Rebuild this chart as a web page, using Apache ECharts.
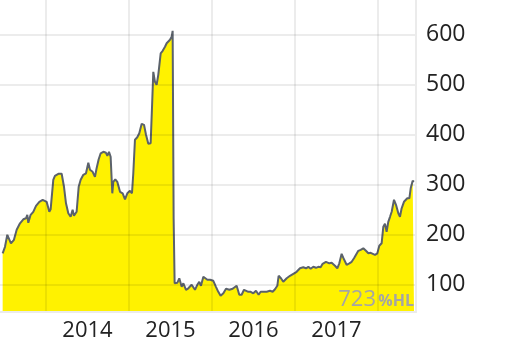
<!DOCTYPE html>
<html>
<head>
<meta charset="utf-8">
<script src="https://cdn.jsdelivr.net/npm/echarts@6/dist/echarts.min.js"></script>
<style>html,body{margin:0;padding:0;background:#fff;}#c{width:512px;height:346px;}</style>
</head>
<body>
<div id="c"></div>
<script>
// Dates as decimal years
var dates = [
2013.478,2013.506,2013.534,2013.558,2013.578,2013.614,2013.647,2013.687,2013.727,2013.759,
2013.775,2013.787,2013.815,2013.847,2013.880,2013.920,2013.936,2013.960,2013.980,2014.008,
2014.040,2014.056,2014.088,2014.108,2014.149,2014.189,2014.217,2014.241,2014.269,2014.297,
2014.321,2014.337,2014.369,2014.394,2014.418,2014.450,2014.482,2014.510,2014.530,2014.562,
2014.590,2014.610,2014.635,2014.659,2014.691,2014.723,2014.739,2014.759,2014.779,2014.799,
2014.811,2014.835,2014.859,2014.892,2014.924,2014.952,2014.980,2015.012,2015.036,2015.052,
2015.072,2015.100,2015.124,2015.153,2015.181,2015.205,2015.233,2015.261,2015.277,2015.293,
2015.313,2015.333,2015.353,2015.382,2015.406,2015.434,2015.454,2015.474,2015.494,2015.514,
2015.526,2015.530,2015.538,2015.550,2015.582,2015.606,2015.635,2015.655,2015.687,2015.715,
2015.755,2015.775,2015.795,2015.823,2015.847,2015.867,2015.896,2015.920,2015.944,2015.976,
2016.016,2016.048,2016.076,2016.104,2016.137,2016.169,2016.209,2016.249,2016.269,2016.297,
2016.329,2016.357,2016.386,2016.410,2016.438,2016.466,2016.498,2016.530,2016.562,2016.586,
2016.618,2016.659,2016.699,2016.731,2016.759,2016.787,2016.803,2016.831,2016.859,2016.900,
2016.940,2016.980,2017.020,2017.060,2017.100,2017.133,2017.161,2017.189,2017.221,2017.253,
2017.281,2017.309,2017.333,2017.373,2017.414,2017.442,2017.482,2017.510,2017.534,2017.562,
2017.590,2017.622,2017.655,2017.683,2017.711,2017.735,2017.763,2017.791,2017.823,2017.855,
2017.884,2017.912,2017.936,2017.964,2017.992,2018.016,2018.044,2018.064,2018.084,2018.104,
2018.124,2018.145,2018.165,2018.193,2018.217,2018.245,2018.265,2018.285,2018.313,2018.337,
2018.353,2018.378,2018.394,2018.418,2018.434
];
var prices = [
162,175,199,199,182,189,209,222,230,232,
239,223,239,245,257,265,261,269,273,265,
245,250,309,317,321,321,295,262,242,235,
249,237,245,295,309,319,322,343,329,325,
315,332,350,362,365,363,357,365,355,282,
305,310,305,285,282,270,282,287,282,322,
389,394,402,421,419,399,381,382,452,525,
505,499,519,562,567,575,582,582,589,595,
607,485,231,102,103,112,95,102,89,92,
99,100,89,99,105,97,115,119,109,109,
107,95,85,77,82,91,89,91,89,97,
79,79,89,91,85,85,82,87,79,85,
85,85,87,85,90,97,117,112,105,112,
117,121,125,132,134,132,135,131,135,133,
135,134,141,145,142,143,137,132,142,161,
150,139,142,145,152,154,167,169,172,167,
162,163,159,159,162,177,182,215,221,205,
225,235,245,269,259,242,235,252,265,265,
272,272,292,307,305
];
var yTicks = [100, 200, 300, 400, 500, 600];
var yearLines = [2014, 2015, 2016, 2017, 2018];
var yearLabels = ['2014', '2015', '2016', '2017'];
var watermarkValue = '723';
var watermarkUnit = '%HL';

var seriesData = dates.map(function (d, i) { return [d, prices[i]]; });
var labelPos = yearLabels.map(function (y) { return Number(y) + 0.5; });

var chart = echarts.init(document.getElementById('c'), null, {renderer: 'canvas'});
var gridCol = 'rgba(0,0,0,0.075)';
chart.setOption({
  animation: false,
  grid: {left: 0, right: 96, top: 0, bottom: 34, containLabel: false},
  xAxis: {
    type: 'value', min: 2013.446, max: 2018.458, z: 3,
    axisLine: {show: true, lineStyle: {color: '#ebebeb', width: 2}},
    axisTick: {show: false, customValues: yearLines},
    splitLine: {show: true, lineStyle: {color: gridCol, width: 2}},
    axisLabel: {
      customValues: labelPos, margin: 8, color: '#222', fontSize: 22, fontFamily: 'Open Sans',
      formatter: function (v) { return String(Math.floor(v)); }
    }
  },
  yAxis: {
    type: 'value', position: 'right', min: 44.6, max: 668.6, z: 3,
    axisLine: {show: true, lineStyle: {color: '#ebebeb', width: 2}},
    axisTick: {show: false, customValues: yTicks},
    splitLine: {show: true, lineStyle: {color: gridCol, width: 2}},
    axisLabel: {
      customValues: yTicks, margin: 10, color: '#222', fontSize: 23, fontFamily: 'Open Sans'
    }
  },
  graphic: [
    {type: 'text', x: 376, y: 299.5, z: 10,
     style: {text: watermarkValue, align: 'right', verticalAlign: 'middle', fill: '#a5a5a5', font: '22px "Open Sans"'}},
    {type: 'text', x: 414, y: 301, z: 10,
     style: {text: watermarkUnit, align: 'right', verticalAlign: 'middle', fill: '#a5a5a5', font: 'bold 16px "Open Sans"'}}
  ],
  series: [{
    type: 'line', data: seriesData, showSymbol: false, z: 2,
    lineStyle: {color: '#5b626b', width: 2},
    areaStyle: {color: '#fff200', opacity: 1, origin: 'start'}
  }]
});
</script>
</body>
</html>
